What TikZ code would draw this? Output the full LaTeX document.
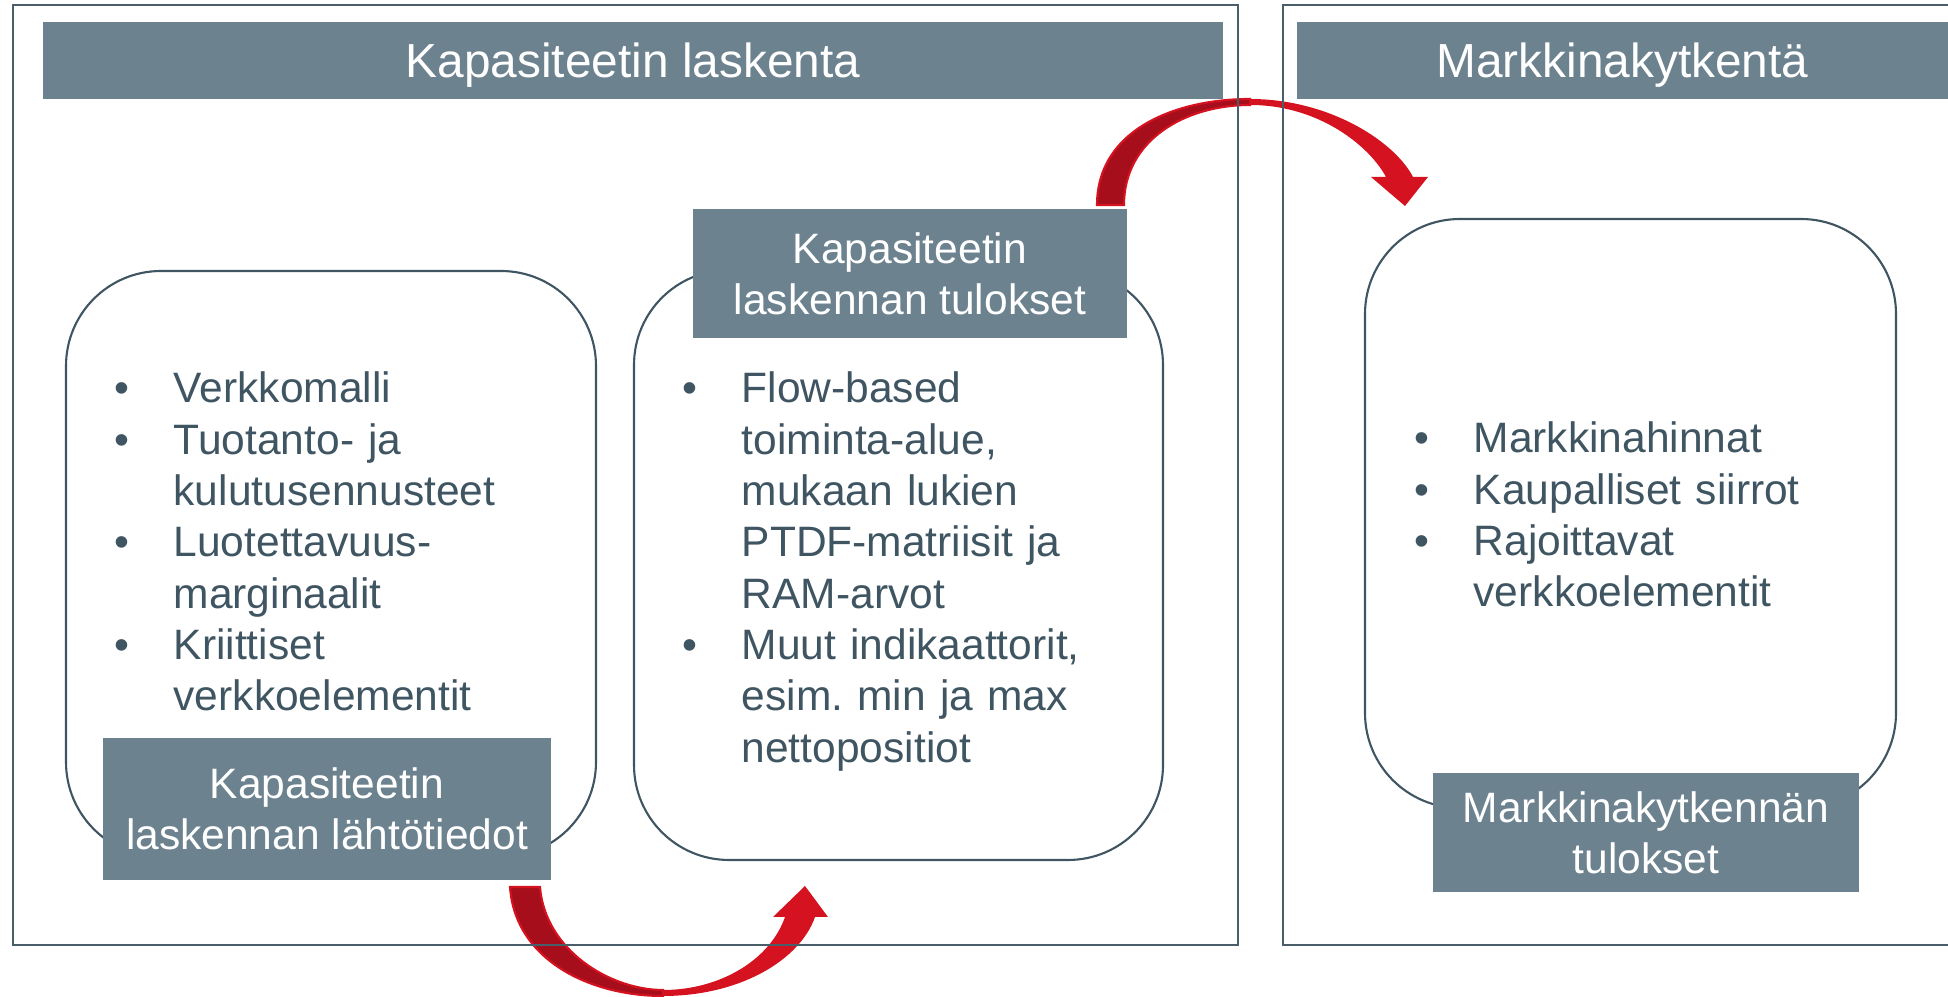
\documentclass[tikz,border=0pt]{standalone}
\usepackage{fontspec}
\setmainfont{Liberation Sans}
\usetikzlibrary{positioning, calc}
\definecolor{cFrame}{RGB}{74,94,106}
\definecolor{cHead}{RGB}{108,130,143}
\definecolor{cTxt}{RGB}{63,85,98}
\definecolor{cRed}{RGB}{213,19,32}
\definecolor{cDark}{RGB}{166,14,28}
\newcommand{\bul}[1]{\noindent\hangindent=0.59cm\hangafter=1\makebox[0.59cm][l]{\textbullet}#1\par}

\begin{document}
\begin{tikzpicture}[
    framebox/.style={draw=cFrame, line width=0.8pt},
    titlebar/.style={fill=cHead, text=white, inner sep=0pt, minimum height=0.77cm, text depth=0pt, font=\fontsize{13.6}{16}\selectfont},
    roundarea/.style={draw=cTxt, line width=0.6pt, rounded corners=0.95cm, inner sep=0pt},
    headbox/.style={fill=cHead, text=white, align=center, inner sep=0pt, font=\fontsize{12.1}{14.6}\selectfont},
    bullist/.style={text=cTxt, anchor=base west, inner sep=0pt, text width=#1, font=\fontsize{12.1}{14.6}\selectfont},
]
    \useasboundingbox (0,0) rectangle (19.48,-9.97);

    % --- Arrows ---
    % Top arrow: results -> market coupling
    \coordinate (up0) at (10.97,-2.05);
    \coordinate (up1) at (11.24,-2.05);
    \coordinate (upT) at (14.05,-2.06);
    \fill[cRed] (up0) .. controls (10.97,-1.30) and (11.75,-0.99) .. (12.50,-0.99)
        .. controls (13.30,-0.99) and (13.95,-1.42) .. (14.13,-1.77)
        -- (14.28,-1.77) -- (upT) -- (13.71,-1.77) -- (13.86,-1.77)
        .. controls (13.70,-1.47) and (13.20,-1.05) .. (12.50,-1.05)
        .. controls (11.85,-1.05) and (11.24,-1.40) .. (up1) -- cycle;
    \filldraw[fill=cDark, draw=cRed, line width=0.6pt] (up0) .. controls (10.97,-1.30) and (11.75,-0.99) .. (12.50,-0.99)
        -- (12.50,-1.05) .. controls (11.85,-1.05) and (11.24,-1.40) .. (up1) -- cycle;

    % Bottom arrow: input data -> results
    \coordinate (dn0) at (5.10,-8.87);
    \coordinate (dn1) at (5.40,-8.87);
    \coordinate (dnT) at (8.05,-8.86);
    \fill[cRed] (dn0) .. controls (5.15,-9.60) and (5.90,-9.96) .. (6.63,-9.96)
        .. controls (7.40,-9.96) and (8.00,-9.60) .. (8.15,-9.17)
        -- (8.28,-9.17) -- (dnT) -- (7.73,-9.17) -- (7.85,-9.17)
        .. controls (7.70,-9.60) and (7.20,-9.90) .. (6.63,-9.90)
        .. controls (6.10,-9.90) and (5.45,-9.50) .. (dn1) -- cycle;
    \filldraw[fill=cDark, draw=cRed, line width=0.6pt] (dn0) .. controls (5.15,-9.60) and (5.90,-9.96) .. (6.63,-9.96)
        -- (6.63,-9.90) .. controls (6.10,-9.90) and (5.45,-9.50) .. (dn1) -- cycle;

    % --- Frames ---
    \draw[framebox] (0.13,-0.05) rectangle (12.38,-9.45);
    \draw[framebox] (19.48,-0.05) -- (12.83,-0.05) -- (12.83,-9.45) -- (19.48,-9.45);

    % --- Title bars ---
    \node[titlebar, minimum width=11.80cm] (calc) at (6.33,-0.605) {Kapasiteetin laskenta};
    \node[titlebar, minimum width=6.51cm] (mkt) at (16.225,-0.605) {Markkinakytkentä};

    % --- Rounded areas ---
    \node[roundarea, minimum width=5.30cm, minimum height=5.86cm] (inarea) at (3.31,-5.64) {};
    \node[roundarea, minimum width=5.29cm, minimum height=5.90cm] (outarea) at (8.985,-5.65) {};
    \node[roundarea, minimum width=5.31cm, minimum height=5.89cm] (mkarea) at (16.305,-5.135) {};

    % --- Box headings ---
    \node[headbox, minimum width=4.48cm, minimum height=1.42cm] (inhead) at (3.27,-8.09) {Kapasiteetin\\laskennan lähtötiedot};
    \node[headbox, minimum width=4.34cm, minimum height=1.29cm] (outhead) at (9.10,-2.735) {Kapasiteetin\\laskennan tulokset};
    \node[headbox, minimum width=4.26cm, minimum height=1.19cm] (mkhead) at (16.46,-8.325) {Markkinakytkennän\\tulokset};

    % --- Lists ---
    \node[bullist=4.6cm] (inlist) at (1.14,-4.03) {\bul{Verkkomalli}\bul{Tuotanto- ja\newline kulutusennusteet}\bul{Luotettavuus-\newline marginaalit}\bul{Kriittiset\newline verkkoelementit}};
    \node[bullist=4.6cm] (outlist) at (6.82,-4.03) {\bul{Flow-based\newline toiminta-alue,\newline mukaan lukien\newline PTDF-matriisit ja\newline RAM-arvot}\bul{Muut indikaattorit,\newline esim.\ min ja max\newline nettopositiot}};
    \node[bullist=4.6cm] (mklist) at (14.14,-4.53) {\bul{Markkinahinnat}\bul{Kaupalliset siirrot}\bul{Rajoittavat\newline verkkoelementit}};

\end{tikzpicture}
\end{document}
